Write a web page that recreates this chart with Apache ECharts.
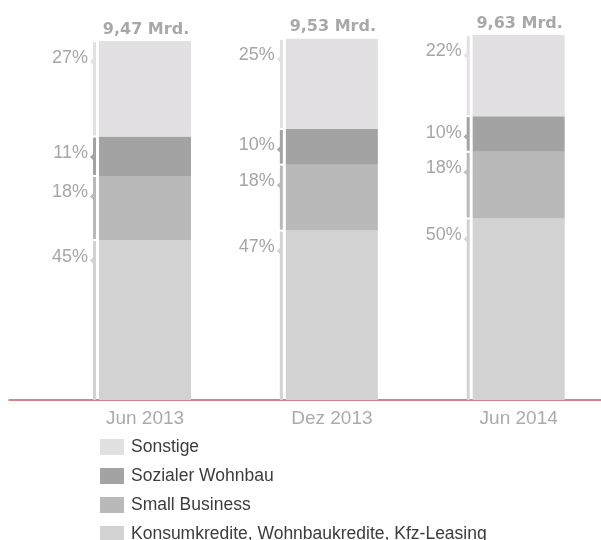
<!DOCTYPE html>
<html>
<head>
<meta charset="utf-8">
<script src="https://cdn.jsdelivr.net/npm/echarts@6/dist/echarts.min.js"></script>
<style>
  html, body { margin: 0; padding: 0; background: #fff; }
  #chart { width: 601px; height: 540px; }
</style>
</head>
<body>
<div id="chart"></div>
<script>
// values in Mrd., stacked bottom to top
const categories = ['Jun 2013', 'Dez 2013', 'Jun 2014']
const totals = [9.47, 9.53, 9.63]
const konsum = [4.22, 4.47, 4.79]
const smallBusiness = [1.69, 1.74, 1.76]
const sozialerWohnbau = [1.04, 0.94, 0.94]
const sonstige = [2.52, 2.38, 2.14]

// printed shares
const konsumPct = ['45%', '47%', '50%']
const smallBusinessPct = ['18%', '18%', '18%']
const sozialerPct = ['11%', '10%', '10%']
const sonstigePct = ['27%', '25%', '22%']

const BAR_WIDTH = 92
const FONT = '"Liberation Sans", Arial, sans-serif'

const stackSeries = [
  { name: 'Konsumkredite, Wohnbaukredite, Kfz-Leasing', values: konsum, pct: konsumPct, color: '#d2d2d2' },
  { name: 'Small Business', values: smallBusiness, pct: smallBusinessPct, color: '#b9b9b9' },
  { name: 'Sozialer Wohnbau', values: sozialerWohnbau, pct: sozialerPct, color: '#a3a3a3' },
  { name: 'Sonstige', values: sonstige, pct: sonstigePct, color: '#e2e0e2' }
]

// segment ranges for the brackets and share labels
const segments = []
categories.forEach((cat, c) => {
  let base = 0
  stackSeries.forEach((s) => {
    segments.push({ value: [c, base, base + s.values[c]], label: s.pct[c], color: s.color })
    base += s.values[c]
  })
})

const chart = echarts.init(document.getElementById('chart'))

const option = {
  animation: false,
  legend: {
    orient: 'vertical',
    left: 100,
    top: 438,
    height: 150,
    padding: 0,
    itemWidth: 24,
    itemHeight: 16,
    itemGap: 11,
    icon: 'rect',
    selectedMode: false,
    data: ['Sonstige', 'Sozialer Wohnbau', 'Small Business', 'Konsumkredite, Wohnbaukredite, Kfz-Leasing'],
    textStyle: {
      color: '#3c3c3c',
      fontSize: 17.5,
      fontFamily: FONT,
      padding: [0, 0, 0, 2]
    }
  },
  grid: [
    { left: 51.6, width: 560.5, top: 21, bottom: 140, outerBoundsMode: 'none', containLabel: false },
    { left: 9, right: 0, top: 21, bottom: 140, outerBoundsMode: 'none', containLabel: false }
  ],
  xAxis: [
    {
      type: 'category',
      data: categories,
      gridIndex: 0,
      axisLine: { show: false },
      axisTick: { show: false },
      axisLabel: {
        color: '#ababab',
        fontSize: 19,
        fontFamily: FONT,
        margin: 9
      }
    },
    {
      type: 'value',
      gridIndex: 1,
      min: 0,
      max: 1,
      axisLine: { show: true, onZero: false, lineStyle: { color: '#c95a6a', width: 1.5 } },
      axisTick: { show: false },
      axisLabel: { show: false },
      splitLine: { show: false }
    }
  ],
  yAxis: [
    { type: 'value', gridIndex: 0, min: 0, max: 10, show: false },
    { type: 'value', gridIndex: 1, min: 0, max: 1, show: false }
  ],
  series: [
    ...stackSeries.map((s) => ({
      name: s.name,
      type: 'bar',
      stack: 'total',
      barWidth: BAR_WIDTH,
      silent: true,
      itemStyle: { color: s.color },
      emphasis: { disabled: true },
      data: s.values
    })),
    {
      name: 'brackets',
      type: 'custom',
      silent: true,
      data: segments.map((s) => s.value),
      renderItem: (params, api) => {
        const seg = segments[params.dataIndex]
        const lo = api.value(1)
        const bottom = api.coord([api.value(0), lo])
        const top = api.coord([api.value(0), api.value(2)])
        const barLeft = bottom[0] - BAR_WIDTH / 2
        const lineX = barLeft - 6
        const y0 = top[1] + 1
        const y1 = lo === 0 ? bottom[1] : bottom[1] - 1
        const notchY = top[1] + 20.5
        return {
          type: 'group',
          children: [
            { type: 'rect', shape: { x: lineX, y: y0, width: 3, height: y1 - y0 }, style: { fill: seg.color } },
            {
              type: 'polygon',
              shape: { points: [[lineX, notchY - 3], [lineX - 3, notchY], [lineX, notchY + 3]] },
              style: { fill: seg.color }
            },
            {
              type: 'text',
              x: barLeft - 11,
              y: top[1] + 7.5,
              style: {
                text: seg.label,
                align: 'right',
                verticalAlign: 'top',
                fill: '#a6a6a6',
                fontSize: 18,
                fontFamily: FONT
              }
            }
          ]
        }
      }
    },
    {
      name: 'totals',
      type: 'custom',
      silent: true,
      data: totals.map((t, i) => [i, t]),
      renderItem: (params, api) => {
        const p = api.coord([api.value(0), api.value(1)])
        return {
          type: 'text',
          x: p[0] + 1,
          y: p[1] - 3.5,
          style: {
            text: api.value(1).toFixed(2).replace('.', ',') + ' Mrd.',
            align: 'center',
            verticalAlign: 'bottom',
            fill: '#a8a8a8',
            fontSize: 16,
            fontWeight: 'bold',
            fontFamily: '"DejaVu Sans", sans-serif'
          }
        }
      }
    }
  ]
}

chart.setOption(option)
</script>
</body>
</html>
